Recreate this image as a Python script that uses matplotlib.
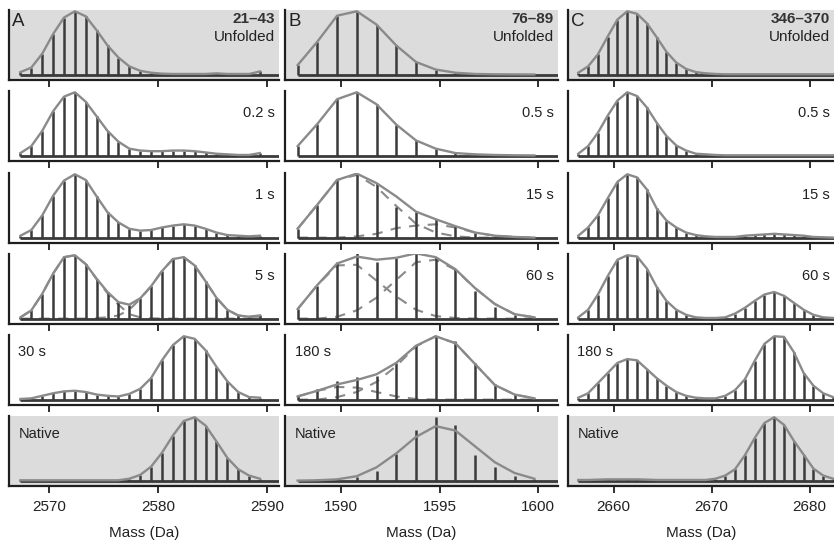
import matplotlib
matplotlib.use("Agg")
import matplotlib.pyplot as plt

plt.rcParams['font.family'] = ['Liberation Sans', 'DejaVu Sans']

# ---------------- data ----------------
# Panel A : peptide 21-43
masses_A = [2567.35, 2568.35, 2569.35, 2570.35, 2571.35, 2572.35, 2573.35, 2574.35,
            2575.35, 2576.35, 2577.35, 2578.35, 2579.35, 2580.35, 2581.35, 2582.35,
            2583.35, 2584.35, 2585.35, 2586.35, 2587.35, 2588.35, 2589.35]
times_A = ["0.2 s", "1 s", "5 s", "30 s"]
A_unfolded = [0.04, 0.11, 0.33, 0.64, 0.90, 1.00, 0.92, 0.70, 0.46, 0.27, 0.13, 0.06,
              0.03, 0.015, 0.01, 0.01, 0.01, 0.01, 0.02, 0.01, 0.01, 0.01, 0.05]
A_02s = [0.04, 0.15, 0.39, 0.70, 0.93, 1.00, 0.85, 0.62, 0.39, 0.22, 0.11, 0.08,
         0.07, 0.07, 0.08, 0.08, 0.07, 0.05, 0.03, 0.02, 0.01, 0.01, 0.04]
A_1s = [0.03, 0.12, 0.35, 0.66, 0.90, 1.00, 0.91, 0.65, 0.40, 0.24, 0.14, 0.11,
        0.12, 0.16, 0.19, 0.21, 0.19, 0.14, 0.08, 0.04, 0.03, 0.02, 0.03]
A_5s = [0.02, 0.13, 0.39, 0.71, 0.97, 1.00, 0.86, 0.63, 0.42, 0.26, 0.22, 0.32,
        0.51, 0.75, 0.94, 0.97, 0.84, 0.59, 0.33, 0.14, 0.05, 0.03, 0.05]
A_5s_unf = [0.02, 0.13, 0.39, 0.71, 0.97, 1.00, 0.86, 0.62, 0.40, 0.22, 0.07, 0.02,
            0.005, 0.0, 0.0, 0.0, 0.0, 0.0, 0.0, 0.0, 0.0, 0.0, 0.0]
A_5s_fold = [0.0, 0.0, 0.0, 0.0, 0.0, 0.0, 0.0, 0.01, 0.02, 0.05, 0.14, 0.31,
             0.51, 0.75, 0.94, 0.97, 0.84, 0.59, 0.33, 0.14, 0.05, 0.03, 0.03]
A_30s = [0.01, 0.02, 0.06, 0.10, 0.13, 0.14, 0.12, 0.08, 0.06, 0.05, 0.09, 0.17,
         0.34, 0.62, 0.86, 1.00, 0.96, 0.78, 0.52, 0.29, 0.12, 0.04, 0.03]
A_native = [0.005, 0.005, 0.005, 0.005, 0.005, 0.005, 0.005, 0.005, 0.005, 0.005, 0.03, 0.09,
            0.22, 0.44, 0.71, 0.94, 1.00, 0.87, 0.62, 0.36, 0.18, 0.08, 0.03]

# Panel B : peptide 76-89
masses_B = [1587.8, 1588.8, 1589.8, 1590.8, 1591.8, 1592.8, 1593.8, 1594.8,
            1595.8, 1596.8, 1597.8, 1598.8, 1599.8]
times_B = ["0.5 s", "15 s", "60 s", "180 s"]
B_unfolded = [0.15, 0.52, 0.93, 1.00, 0.79, 0.46, 0.20, 0.08, 0.03, 0.01, 0.005, 0.003, 0.002]
B_05s = [0.15, 0.50, 0.89, 1.00, 0.81, 0.49, 0.24, 0.11, 0.04, 0.02, 0.01, 0.005, 0.003]
B_15s = [0.14, 0.52, 0.91, 1.00, 0.86, 0.48, 0.41, 0.29, 0.18, 0.08, 0.03, 0.02, 0.01]
B_15s_unf = [0.14, 0.52, 0.91, 0.99, 0.80, 0.50, 0.22, 0.08, 0.02, 0.0, 0.0, 0.0, 0.0]
B_15s_fold = [0.0, 0.0, 0.0, 0.02, 0.06, 0.15, 0.19, 0.21, 0.16, 0.08, 0.03, 0.01, 0.0]
B_60s = [0.15, 0.52, 0.89, 1.03, 0.90, 0.95, 1.04, 0.97, 0.79, 0.44, 0.18, 0.06, 0.03]
B_60s_unf = [0.15, 0.53, 0.84, 0.85, 0.60, 0.35, 0.14, 0.04, 0.01, 0.0, 0.0, 0.0, 0.0]
B_60s_fold = [0.0, 0.0, 0.03, 0.13, 0.33, 0.61, 0.89, 0.93, 0.77, 0.48, 0.23, 0.07, 0.02]
B_180s = [0.05, 0.16, 0.30, 0.36, 0.38, 0.58, 0.87, 1.00, 0.93, 0.58, 0.25, 0.09, 0.03]
B_180s_unf = [0.05, 0.14, 0.20, 0.19, 0.12, 0.05, 0.01, 0.0, 0.0, 0.0, 0.0, 0.0, 0.0]
B_180s_fold = [0.0, 0.0, 0.04, 0.12, 0.28, 0.53, 0.84, 1.00, 0.89, 0.56, 0.23, 0.08, 0.02]
B_native = [0.0, 0.02, 0.03, 0.05, 0.15, 0.42, 0.80, 1.00, 0.88, 0.40, 0.22, 0.08, 0.03]
B_native_fit = [0.0, 0.005, 0.02, 0.07, 0.21, 0.43, 0.69, 0.86, 0.79, 0.54, 0.29, 0.12, 0.03]

# Panel C : peptide 346-370
masses_C = [2656.4, 2657.4, 2658.4, 2659.4, 2660.4, 2661.4, 2662.4, 2663.4, 2664.4,
            2665.4, 2666.4, 2667.4, 2668.4, 2669.4, 2670.4, 2671.4, 2672.4, 2673.4,
            2674.4, 2675.4, 2676.4, 2677.4, 2678.4, 2679.4, 2680.4, 2681.4, 2682.4]
times_C = ["0.5 s", "15 s", "60 s", "180 s"]
C_unfolded = [0.03, 0.13, 0.32, 0.60, 0.87, 1.00, 0.96, 0.81, 0.59, 0.36, 0.19, 0.09, 0.04, 0.02,
              0.01, 0.005, 0.005, 0.005, 0.005, 0.005, 0.005, 0.005, 0.005, 0.005, 0.005, 0.005, 0.005]
C_05s = [0.03, 0.15, 0.36, 0.63, 0.87, 1.00, 0.94, 0.76, 0.52, 0.31, 0.16, 0.08, 0.03, 0.02,
         0.01, 0.005, 0.005, 0.005, 0.005, 0.005, 0.005, 0.005, 0.005, 0.005, 0.005, 0.005, 0.005]
C_15s = [0.03, 0.16, 0.35, 0.62, 0.88, 1.00, 0.95, 0.76, 0.46, 0.27, 0.16, 0.08, 0.04, 0.02,
         0.01, 0.01, 0.01, 0.03, 0.04, 0.05, 0.06, 0.05, 0.04, 0.03, 0.01, 0.005, 0.0]
C_60s = [0.02, 0.14, 0.38, 0.67, 0.93, 1.00, 0.98, 0.79, 0.50, 0.28, 0.14, 0.06, 0.02, 0.01,
         0.01, 0.02, 0.08, 0.17, 0.28, 0.38, 0.42, 0.36, 0.25, 0.14, 0.06, 0.02, 0.01]
C_180s = [0.03, 0.10, 0.26, 0.42, 0.58, 0.64, 0.62, 0.48, 0.34, 0.22, 0.12, 0.06, 0.03, 0.02,
          0.02, 0.06, 0.15, 0.32, 0.61, 0.88, 1.00, 0.99, 0.75, 0.42, 0.22, 0.10, 0.04]
C_native = [0.01, 0.01, 0.015, 0.02, 0.02, 0.02, 0.02, 0.015, 0.01, 0.01, 0.01, 0.01, 0.01, 0.01,
            0.03, 0.08, 0.18, 0.40, 0.67, 0.91, 1.00, 0.88, 0.63, 0.41, 0.19, 0.08, 0.03]

xticks_A = [2570, 2580, 2590]
xticks_B = [1590, 1595, 1600]
xticks_C = [2660, 2670, 2680]

# --------------- styling/layout ---------------
W, H = 834, 543
STICK = "#3a3a3a"
CURVE = "#8a8a8a"
SHADE = "#dcdcdc"
SPINE = "#1e1e1e"

panels = [
    dict(letter="A", peptide="21\u201343", masses=masses_A, xlim=(2566.3, 2591.1), ticks=xticks_A,
         times=times_A, left=9, width=270,
         rows=[(A_unfolded, None, None), (A_02s, None, None), (A_1s, None, None),
               (A_5s, None, (A_5s_unf, A_5s_fold)), (A_30s, None, None), (A_native, None, None)]),
    dict(letter="B", peptide="76\u201389", masses=masses_B, xlim=(1587.16, 1601.0), ticks=xticks_B,
         times=times_B, left=285, width=273,
         rows=[(B_unfolded, None, None), (B_05s, None, None),
               (B_15s, None, (B_15s_unf, B_15s_fold)),
               (B_60s, None, (B_60s_unf, B_60s_fold)),
               (B_180s, None, (B_180s_unf, B_180s_fold)),
               (B_native, B_native_fit, None)]),
    dict(letter="C", peptide="346\u2013370", masses=masses_C, xlim=(2655.35, 2682.5), ticks=xticks_C,
         times=times_C, left=568, width=266,
         rows=[(C_unfolded, None, None), (C_05s, None, None), (C_15s, None, None),
               (C_60s, None, None), (C_180s, None, None), (C_native, None, None)]),
]

row_tops = [10, 91, 173, 254, 335, 416]
row_h = 70

fig = plt.figure(figsize=(W / 100, H / 100), dpi=100)

for p in panels:
    m = p["masses"]
    for r, (sticks, fit, comps) in enumerate(p["rows"]):
        top = row_tops[r]
        ax = fig.add_axes([p["left"] / W, 1 - (top + row_h) / H, p["width"] / W, row_h / H])
        ax.set_xlim(*p["xlim"])
        ax.set_ylim(-0.085, 1.02)
        ax.set_facecolor(SHADE if r in (0, 5) else "white")
        for s in ("top", "right"):
            ax.spines[s].set_visible(False)
        for s in ("left", "bottom"):
            ax.spines[s].set_linewidth(1.6)
            ax.spines[s].set_color(SPINE)
        ax.set_yticks([])
        ax.set_xticks(p["ticks"])
        ax.tick_params(axis="x", direction="out", length=5, width=1.3, colors=SPINE,
                       labelsize=11, pad=5, labelcolor="#222222")
        if r < 5:
            ax.set_xticklabels([])
        else:
            ax.set_xlabel("Mass (Da)", fontsize=11, labelpad=9, color="#222222")

        # baseline
        ax.hlines(0, m[0], p["xlim"][1], color=STICK, lw=2.0, zorder=2)
        # components
        if comps is not None:
            for c in comps:
                ax.plot(m, c, color=CURVE, lw=1.5, ls=(0, (5, 4)), zorder=1.5)
        # sticks
        ax.vlines(m, 0, sticks, color=STICK, lw=1.8, zorder=2.5)
        # envelope
        if fit is None:
            if comps is not None and p["letter"] == "B":
                fit = [a + b for a, b in zip(*comps)]
            else:
                fit = sticks
        ax.plot(m, fit, color=CURVE, lw=1.7, zorder=3, solid_joinstyle="round")

        # labels
        if r == 0:
            ax.text(0.012, 1 - 12 / row_h, p["letter"], transform=ax.transAxes,
                    fontsize=13.5, ha="left", va="center", color="#222222")
            ax.text(0.985, 1 - 9 / row_h, p["peptide"], transform=ax.transAxes,
                    fontsize=11, fontweight="bold", ha="right", va="center", color="#333333")
            ax.text(0.985, 1 - 27 / row_h, "Unfolded", transform=ax.transAxes,
                    fontsize=11, ha="right", va="center", color="#222222")
        elif r in (1, 2, 3):
            ax.text(0.985, 1 - 22 / row_h, p["times"][r - 1], transform=ax.transAxes,
                    fontsize=10.5, ha="right", va="center", color="#222222")
        elif r == 4:
            ax.text(0.035, 1 - 17 / row_h, p["times"][3], transform=ax.transAxes,
                    fontsize=10.5, ha="left", va="center", color="#222222")
        else:
            ax.text(0.035, 1 - 18 / row_h, "Native", transform=ax.transAxes,
                    fontsize=10.5, ha="left", va="center", color="#222222")

fig.savefig("out.png", dpi=100)
